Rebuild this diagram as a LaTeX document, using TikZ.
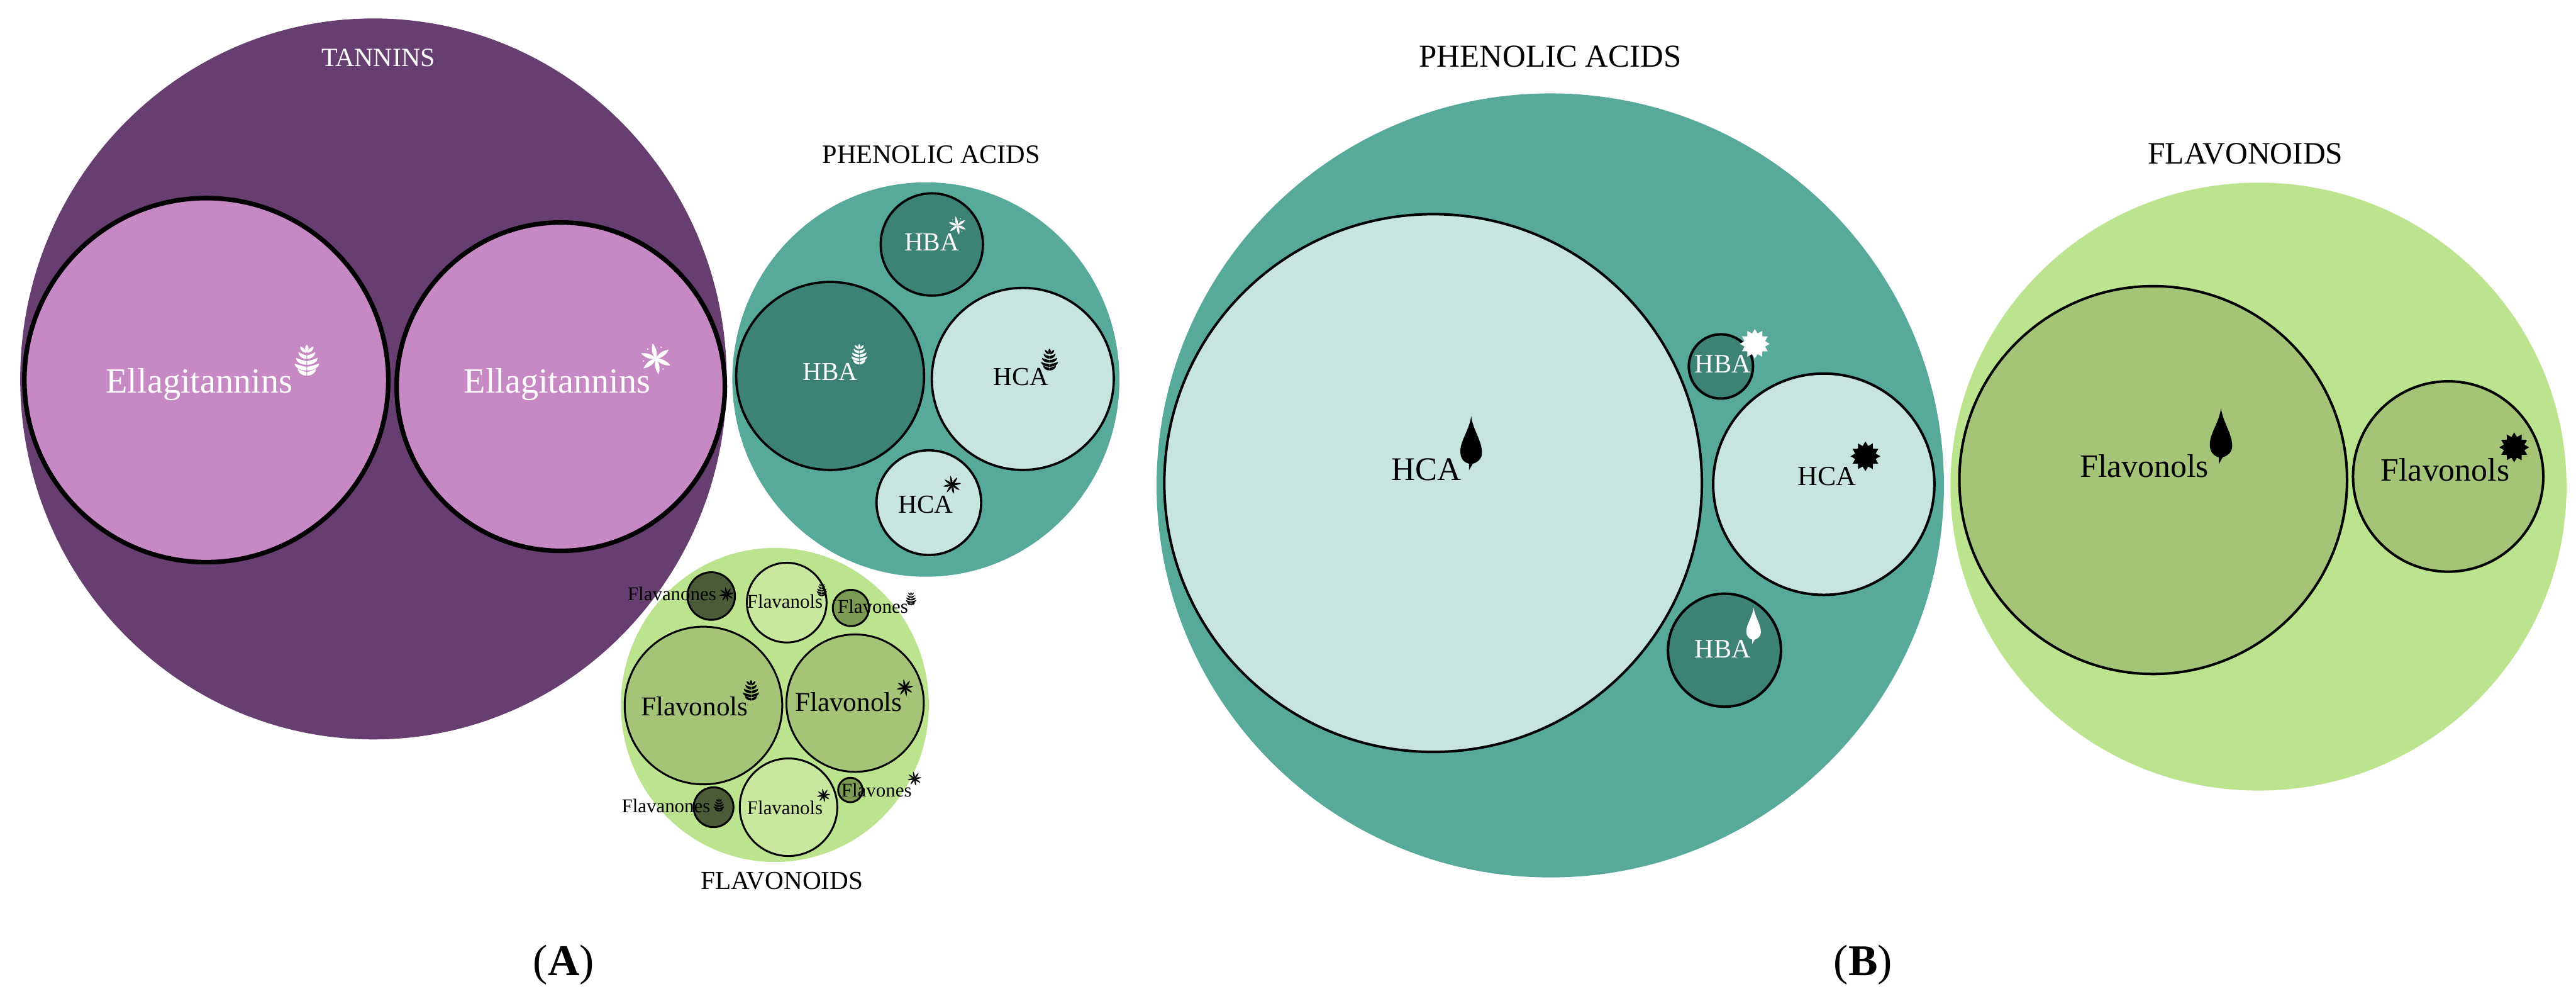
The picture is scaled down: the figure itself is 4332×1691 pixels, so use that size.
\documentclass[tikz,border=0pt]{standalone}
\usepackage{fontspec}
\setmainfont{Liberation Serif}
\usetikzlibrary{shapes.geometric}
\newcommand{\fs}[1]{\fontsize{#1}{#1}\selectfont}
\definecolor{tanninbg}{HTML}{663E6F}
\definecolor{ellagi}{HTML}{C689C4}
\definecolor{phenolbg}{HTML}{57AA99}
\definecolor{hbafill}{HTML}{3C8275}
\definecolor{hcafill}{HTML}{C8E4DE}
\definecolor{flavbg}{HTML}{BCE38E}
\definecolor{flavonol}{HTML}{A4C578}
\definecolor{flavanol}{HTML}{C8E8A0}
\definecolor{flavanone}{HTML}{4B5B37}
\definecolor{flavone}{HTML}{7C9B54}
\tikzset{
  big/.style n args={3}{ellipse, fill=#1, inner sep=0, minimum width=#2*.01cm, minimum height=#3*.01cm},
  disc/.style n args={2}{circle, draw=black, fill=#1, inner sep=0, minimum size=#2*.01cm},
  lab/.style={anchor=base, inner sep=0, font=\fs{#1}},
  pics/sprig/.style={code={
    \foreach \y/\w in {-14/28, 5/36, 24/40, 41/30}{
      \foreach \s in {-1,1}{
        \fill (\s*1,\y-1) .. controls (\s*12,\y-3) and (\s*\w*.7,\y-7) .. (\s*\w,\y-12) .. controls (\s*\w,\y+2) and (\s*\w*.5,\y+11) .. (\s*1,\y+11) -- cycle;
      }
    }
    \fill (0,-50) .. controls (8,-42) and (8,-32) .. (0,-24) .. controls (-8,-32) and (-8,-42) .. cycle;
    \fill (-2,-23) .. controls (-14,-25) and (-22,-32) .. (-22,-44) .. controls (-12,-42) and (-4,-33) .. cycle;
    \fill (2,-23) .. controls (14,-25) and (22,-32) .. (22,-44) .. controls (12,-42) and (4,-33) .. cycle;
  }},
  pics/flower/.style={code={
    \foreach \a in {12,70,128,190,245,305}{
      \fill[rotate=\a] (0,0) .. controls (10,-14) and (8,-36) .. (0,-50) .. controls (-8,-36) and (-10,-14) .. (0,0);
    }
    \foreach \a in {40,100,215,335}{\fill[rotate=\a] (0,-40) circle (2.5);}
  }},
  pics/aster/.style={code={
    \foreach \a in {0,45,...,315}{
      \fill[rotate=\a+10] (0,0) .. controls (9,-14) and (6,-36) .. (0,-50) .. controls (-6,-36) and (-9,-14) .. (0,0);
    }
    \fill (0,0) circle (16);
  }},
  pics/burst/.style={code={
    \fill (0,0) circle (36);
    \foreach \a in {0,30,...,330}{\fill[rotate=\a] (-10,-33) -- (0,-50) -- (10,-33) -- cycle;}
  }},
  pics/leaficon/.style={code={
    \fill (0,-50) .. controls (3,-25) and (20,-5) .. (20,18) .. controls (20,30) and (10,36) .. (3,38) -- (-4,50) -- (-4,38) .. controls (-12,36) and (-20,30) .. (-20,15) .. controls (-20,-5) and (-3,-25) .. cycle;
  }}
}
\begin{document}
\begin{tikzpicture}[x=.01cm, y=-.01cm]
\useasboundingbox (0,0) rectangle (4332,1691);

\node[big={tanninbg}{1188}{1212}] (t0) at (628,637) {};
\node[disc={ellagi}{612}, line width=2.2pt] (t1) at (347,639) {};
\node[disc={ellagi}{552}, line width=2.2pt] (t2) at (943,650) {};
\node[lab=12.6, text=white] (tt) at (636,112) {TANNINS};
\node[lab=16.9, text=white] (l1) at (335,660) {Ellagitannins};
\node[lab=16.9, text=white] (l2) at (937,660) {Ellagitannins};
\pic[white, scale=.51] at (516,605) {sprig};
\pic[white, scale=.53] at (1103,603) {flower};

\node[big={phenolbg}{651}{663}] (p0) at (1557,638) {};
\node[disc={hbafill}{172}, line width=1.1pt] (p1) at (1567,411) {};
\node[disc={hbafill}{316}, line width=1.1pt] (p2) at (1396,632) {};
\node[disc={hcafill}{306}, line width=1.1pt] (p3) at (1720,637) {};
\node[disc={hcafill}{176}, line width=1.1pt] (p4) at (1562,845) {};
\node[lab=12.7] (pt) at (1566,274) {PHENOLIC ACIDS};
\node[lab=12.4, text=white] (a1) at (1567,421) {HBA};
\node[lab=12.4, text=white] (a2) at (1396,639) {HBA};
\node[lab=12.4] (a3) at (1717,648) {HCA};
\node[lab=12.4] (a4) at (1557,862) {HCA};
\pic[white, scale=.31] at (1610,379) {flower};
\pic[white, scale=.34] at (1445,595) {sprig};
\pic[scale=.36] at (1765,604) {sprig};
\pic[scale=.31] at (1601,815) {aster};

\node[big={flavbg}{518}{528}] (f0) at (1303,1185) {};
\node[disc={flavanone}{80}, line width=.9pt] (f1) at (1196,1002) {};
\node[disc={flavanol}{134}, line width=.9pt] (f2) at (1323,1013) {};
\node[disc={flavone}{61}, line width=.9pt] (f3) at (1431,1022) {};
\node[disc={flavonol}{265}, line width=.9pt] (f4) at (1183,1186) {};
\node[disc={flavonol}{231}, line width=.9pt] (f5) at (1438,1182) {};
\node[disc={flavanol}{164}, line width=.9pt] (f6) at (1326,1357) {};
\node[disc={flavone}{41}, line width=.9pt] (f7) at (1430,1328) {};
\node[disc={flavanone}{67}, line width=.9pt] (f8) at (1200,1357) {};
\node[lab=12.4] (ft) at (1315,1495) {FLAVONOIDS};
\node[lab=9.3] (n1) at (1130,1010) {Flavanones};
\node[lab=9.3] (n2) at (1320,1022) {Flavanols};
\node[lab=9.3] (n3) at (1468,1031) {Flavones};
\node[lab=13] (n4) at (1168,1203) {Flavonols};
\node[lab=13] (n5) at (1427,1196) {Flavonols};
\node[lab=9.3] (n6) at (1320,1369) {Flavanols};
\node[lab=9.3] (n7) at (1474,1339) {Flavones};
\node[lab=9.3] (n8) at (1120,1366) {Flavanones};
\pic[scale=.25] at (1222,999) {aster};
\pic[scale=.22] at (1382,991) {sprig};
\pic[scale=.22] at (1532,1006) {sprig};
\pic[scale=.34] at (1263,1160) {sprig};
\pic[scale=.29] at (1522,1156) {aster};
\pic[scale=.23] at (1385,1337) {aster};
\pic[scale=.24] at (1538,1309) {aster};
\pic[scale=.22] at (1209,1353) {sprig};

\node[big={phenolbg}{1324}{1318}] (q0) at (2607,816) {};
\node[disc={hcafill}{904}, line width=1.2pt] (q1) at (2410,812) {};
\node[disc={hbafill}{108}, line width=1.2pt] (q2) at (2894,616) {};
\node[disc={hcafill}{372}, line width=1.2pt] (q3) at (3067,814) {};
\node[disc={hbafill}{190}, line width=1.2pt] (q4) at (2900,1093) {};
\node[lab=15.3] (qt) at (2607,113) {PHENOLIC ACIDS};
\node[lab=15.8] (c1) at (2399,808) {HCA};
\node[lab=12.7, text=white] (c2) at (2897,627) {HBA};
\node[lab=13.2] (c3) at (3072,816) {HCA};
\node[lab=12.7, text=white] (c4) at (2897,1106) {HBA};
\pic[scale=.91] at (2474,745) {leaficon};
\pic[white, scale=.5] at (2951,578) {burst};
\pic[scale=.5] at (3137,767) {burst};
\pic[white, scale=.61] at (2949,1052) {leaficon};

\node[big={flavbg}{1036}{1022}] (g0) at (3798,818) {};
\node[disc={flavonol}{652}, line width=1.2pt] (g1) at (3621,807) {};
\node[disc={flavonol}{320}, line width=1.2pt] (g2) at (4117,801) {};
\node[lab=14.9] (gt) at (3776,275) {FLAVONOIDS};
\node[lab=15.6] (o1) at (3606,802) {Flavonols};
\node[lab=15.6] (o2) at (4112,809) {Flavonols};
\pic[scale=.94] at (3735,733) {leaficon};
\pic[scale=.5] at (4228,752) {burst};

\node[lab=21] (ca) at (948,1640) {(\textbf{A})};
\node[lab=21] (cb) at (3133,1640) {(\textbf{B})};
\end{tikzpicture}
\end{document}
